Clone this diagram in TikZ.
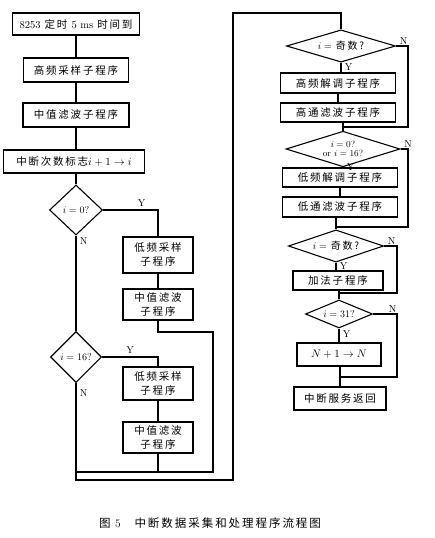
\documentclass[tikz,border=0pt]{standalone}
\usepackage{fontspec}
\newfontfamily\cjk[LetterSpace=17]{Noto Sans CJK SC}
\usetikzlibrary{positioning,shapes.geometric}

\tikzset{
  box/.style={draw,line width=1.1pt,align=center,inner sep=1pt,font=\cjk\fontsize{10.5}{14}\selectfont},
  test/.style={draw,diamond,line width=1.1pt,align=center,inner sep=0pt,aspect=2,font=\cjk\fontsize{10}{11}\selectfont},
  lbl/.style={font=\rmfamily\fontsize{10}{10}\selectfont},
  flow/.style={line width=1.1pt}
}

\begin{document}
\begin{tikzpicture}[x=1pt,y=-1pt]
  \useasboundingbox (0,0) rectangle (435,538);
  % left column
  \node[box,minimum width=127pt,minimum height=22pt] (t5) at (76,24) {{\rmfamily 8253} 定时 {\rmfamily 5 ms} 时间到};
  \node[box,minimum width=105pt,minimum height=24pt] (hfs) at (76,70) {高频采样子程序};
  \node[box,minimum width=106pt,minimum height=24pt] (mf1) at (76,115) {中值滤波子程序};
  \node[box,minimum width=141pt,minimum height=23pt] (cnt) at (74,161.5) {中断次数标志$i+1\to i$};
  \node[test,minimum width=53pt,minimum height=50pt] (d0) at (76,210) {$i=0?$};
  \node[box,minimum width=70pt,minimum height=36pt] (lfs1) at (158,255) {低频采样\\子程序};
  \node[box,minimum width=70pt,minimum height=31pt] (mf2) at (158,304.5) {中值滤波\\子程序};
  \node[test,minimum width=51pt,minimum height=51pt] (d16) at (76,357) {$i=16?$};
  \node[box,minimum width=70pt,minimum height=33pt] (lfs2) at (158,383.5) {低频采样\\子程序};
  \node[box,minimum width=70pt,minimum height=31pt] (mf3) at (158,437.5) {中值滤波\\子程序};
  % right column
  \node[test,minimum width=109pt,minimum height=28pt] (odd1) at (341,46) {$i=$ 奇数?};
  \node[box,minimum width=115pt,minimum height=20pt] (hfd) at (338,83) {高频解调子程序};
  \node[box,minimum width=115pt,minimum height=19pt] (hpf) at (338,112.5) {高通滤波子程序};
  \node[test,minimum width=114pt,minimum height=28pt,font=\rmfamily\fontsize{9}{9}\selectfont] (d016) at (343,149) {$i=0?$\\or $i=16?$};
  \node[box,minimum width=115pt,minimum height=19pt] (lfd) at (340,177.5) {低频解调子程序};
  \node[box,minimum width=115pt,minimum height=20pt] (lpf) at (340,207) {低通滤波子程序};
  \node[test,minimum width=95pt,minimum height=32pt] (odd2) at (336,246) {$i=$ 奇数?};
  \node[box,minimum width=90pt,minimum height=19pt] (add) at (338,280.5) {加法子程序};
  \node[test,minimum width=67pt,minimum height=28pt] (d31) at (339,314) {$i=31?$};
  \node[box,minimum width=84pt,minimum height=23pt] (inc) at (339,354.5) {$N+1\to N$};
  \node[box,minimum width=92pt,minimum height=23pt] (ret) at (340,398.5) {中断服务返回};
  % caption
  \node[font=\cjk\fontsize{11.5}{13}\selectfont] (cap) at (210,523) {图 {\rmfamily 5}\hspace{1.2em}中断数据采集和处理程序流程图};

  % turning points
  \coordinate (m1) at (158,332);
  \coordinate (r1) at (213,332);
  \coordinate (r2) at (213,472);
  \coordinate (j1) at (76,472);
  \coordinate (j2) at (76,480);
  \coordinate (c1) at (233,480);
  \coordinate (c2) at (233,13);
  \coordinate (c3) at (341,13);
  \coordinate (n1) at (408,127);
  \coordinate (n2) at (408,227);
  \coordinate (n3) at (397,293);
  \coordinate (n4) at (397,377);

  % left connectors
  \draw[flow] (t5) -- (hfs);
  \draw[flow] (hfs) -- (mf1);
  \draw[flow] (mf1) -- (cnt.north -| mf1);
  \draw[flow] (cnt.south -| d0) -- (d0);
  \draw[flow] (d0.east) -| (lfs1.north) node[lbl,pos=0.35,above] {Y};
  \draw[flow] (lfs1) -- (mf2);
  \draw[flow] (mf2.south) -- (m1) -- (r1) -- (r2) -- (j1);
  \draw[flow] (d0.south) -- (d16.north) node[lbl,pos=0.06,right] {N};
  \draw[flow] (d16.east) -| (lfs2.north) node[lbl,pos=0.25,above] {Y};
  \draw[flow] (lfs2) -- (mf3);
  \draw[flow] (mf3.south) -- (mf3.south |- r2);
  \draw[flow] (d16.south) -- (j2) node[lbl,pos=0.1,right] {N} -- (c1) -- (c2) -- (c3) -- (odd1.north);

  % right connectors
  \draw[flow] (odd1.south) -- (odd1.south |- hfd.north) node[lbl,pos=0.4,right] {Y};
  \draw[flow] (hfd) -- (hpf);
  \draw[flow] (hpf.south -| d016) -- (d016.north);
  \draw[flow] (odd1.east) node[lbl,above right=-2pt and 0pt] {N} -| (n1) -- (n1 -| d016);
  \draw[flow] (d016.south) -- (d016.south |- lfd.north) node[lbl,pos=0.4,right] {Y};
  \draw[flow] (lfd) -- (lpf);
  \draw[flow] (lpf.south -| odd2) -- (odd2.north);
  \draw[flow] (d016.east) node[lbl,above right=-2pt and 0pt] {N} -| (n2) -- (n2 -| odd2);
  \draw[flow] (odd2.south) -- (odd2.south |- add.north) node[lbl,pos=0.4,right] {Y};
  \draw[flow] (add.south -| d31) -- (d31.north);
  \draw[flow] (odd2.east) node[lbl,above right=-2pt and 0pt] {N} -| (n3) -- (n3 -| d31);
  \draw[flow] (d31.south) -- (d31.south |- inc.north) node[lbl,pos=0.4,right] {Y};
  \draw[flow] (inc.south -| ret) -- (ret.north);
  \draw[flow] (d31.east) node[lbl,above right=-2pt and 12pt] {N} -| (n4) -- (n4 -| ret);
\end{tikzpicture}
\end{document}
